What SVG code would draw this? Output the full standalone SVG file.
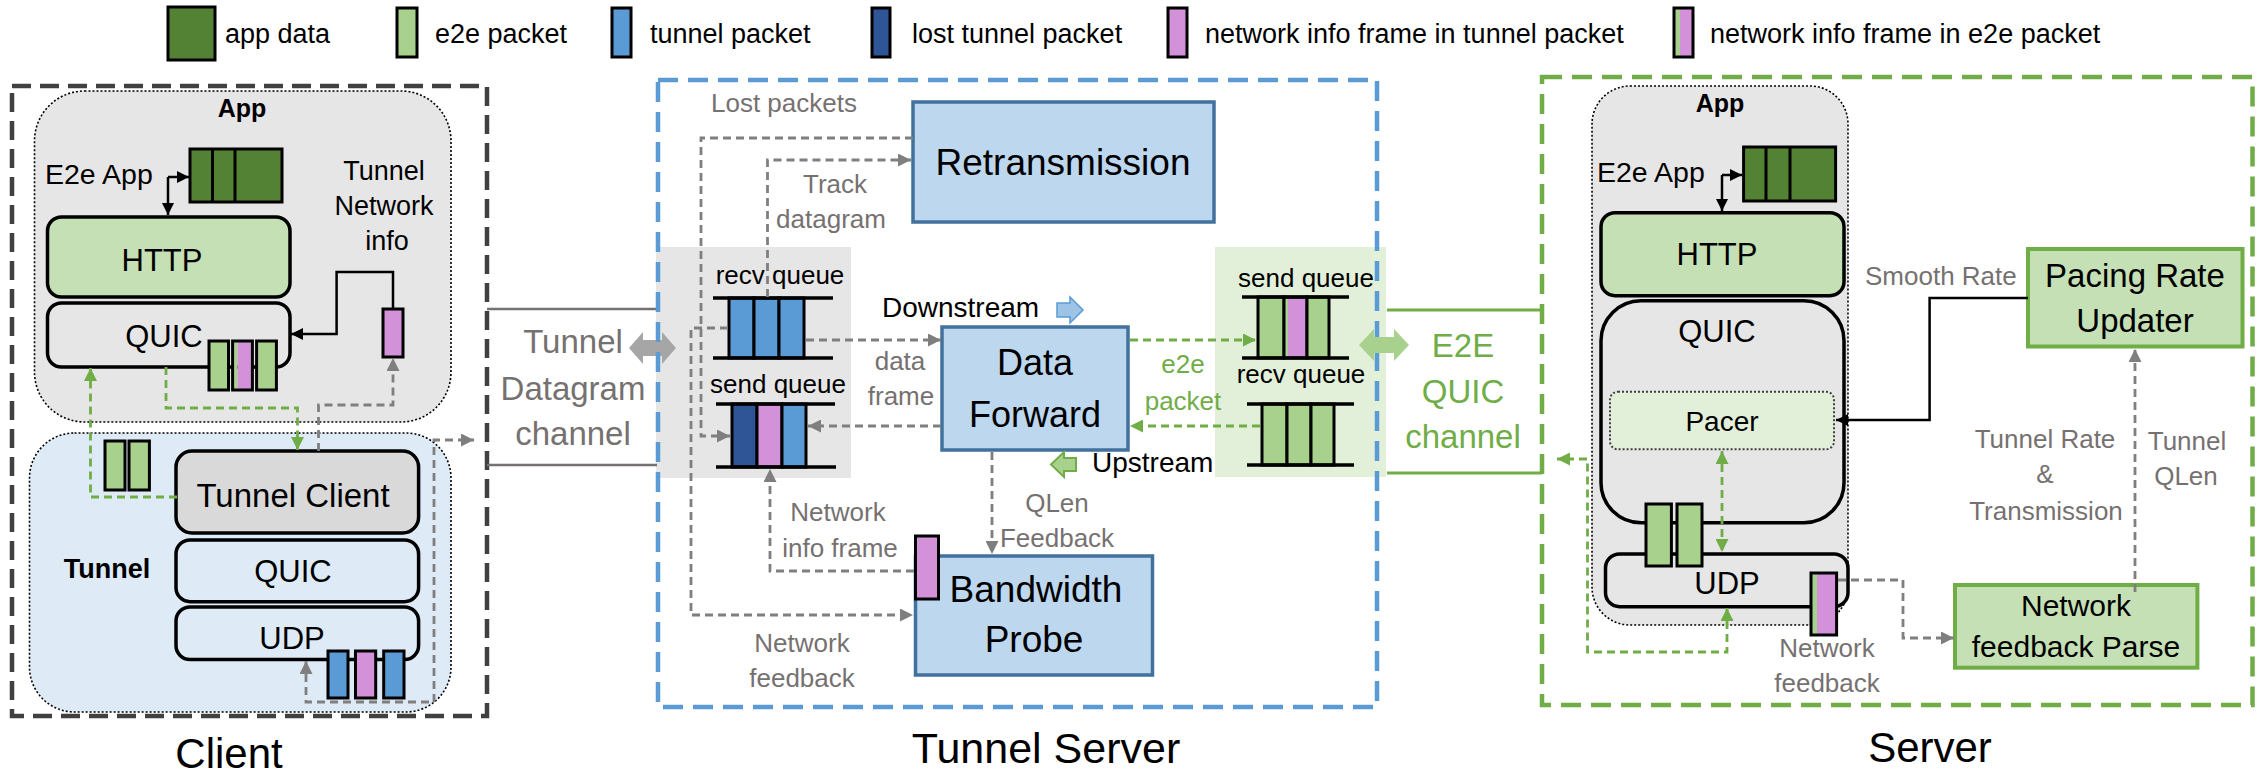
<svg xmlns="http://www.w3.org/2000/svg" width="2264" height="773" viewBox="0 0 2264 773">
<style>
text{font-family:"Liberation Sans",Arial,sans-serif;fill:#000}
.c{text-anchor:middle}
.g{fill:#767171}
.gr{fill:#70ad47}
.b{font-weight:bold}
.pk{stroke:#000;stroke-width:3}
.e2e{fill:#a9d18e}
.tun{fill:#5b9bd5}
.lost{fill:#2f5597}
.nif{fill:#d291d9}
.app{fill:#548235}
.layer{stroke:#000;stroke-width:3.5}
.blue{fill:#bdd7ee;stroke:#41719c;stroke-width:3.5}
.gbox{fill:#c5e0b4;stroke:#70ad47;stroke-width:4}
.dot{stroke:#000;stroke-width:1.6;stroke-dasharray:2 2}
.q{stroke:#000;stroke-width:3.5}
.dg{fill:none;stroke:#7f7f7f;stroke-width:2.8;stroke-dasharray:8 5}
.dgr{fill:none;stroke:#70ad47;stroke-width:2.8;stroke-dasharray:8 5}
.bl{fill:none;stroke:#000;stroke-width:2.5}
</style>
<defs>
<marker id="ag" viewBox="0 0 10 10" refX="10" refY="5" markerWidth="13" markerHeight="13" markerUnits="userSpaceOnUse" orient="auto-start-reverse"><path d="M0,0 L10,5 L0,10 z" fill="#7f7f7f"/></marker>
<marker id="agr" viewBox="0 0 10 10" refX="10" refY="5" markerWidth="13" markerHeight="13" markerUnits="userSpaceOnUse" orient="auto-start-reverse"><path d="M0,0 L10,5 L0,10 z" fill="#70ad47"/></marker>
<marker id="ab" viewBox="0 0 10 10" refX="10" refY="5" markerWidth="12" markerHeight="12" markerUnits="userSpaceOnUse" orient="auto-start-reverse"><path d="M0,0 L10,5 L0,10 z" fill="#000"/></marker>
</defs>
<rect width="2264" height="773" fill="#fff"/>

<g id="legend" font-size="27">
<rect class="pk app" x="168" y="7" width="47" height="53" stroke-width="4"/>
<text x="225" y="43" font-size="27">app data</text>
<rect class="pk e2e" x="397" y="8" width="20" height="49"/>
<text x="435" y="43" font-size="27">e2e packet</text>
<rect class="pk tun" x="612" y="8" width="19" height="49"/>
<text x="650" y="43" font-size="27">tunnel packet</text>
<rect class="pk lost" x="872" y="8" width="18" height="49"/>
<text x="912" y="43" font-size="27">lost tunnel packet</text>
<rect class="pk nif" x="1168" y="8" width="19" height="49"/>
<text x="1205" y="43" font-size="27">network info frame in tunnel packet</text>
<rect class="e2e" x="1674" y="8" width="6" height="49"/>
<rect class="nif" x="1680" y="8" width="13" height="49"/>
<rect x="1674" y="8" width="19" height="49" fill="none" stroke="#000" stroke-width="3"/>
<text x="1710" y="43" font-size="27">network info frame in e2e packet</text>
</g>

<g id="tunnel-server-panels">
<rect x="656" y="247" width="195" height="231" fill="#e7e6e6"/>
<rect x="1215" y="247" width="171" height="230" fill="#e2f0d9"/>
</g>

<g id="client">
<rect x="12" y="86" width="475" height="630" fill="none" stroke="#404040" stroke-width="4.5" stroke-dasharray="19 9"/>
<text class="c" x="229" y="768" font-size="42">Client</text>
</g>

<g id="client-app">
<rect class="dot" x="34.5" y="91" width="416.5" height="331" rx="50" fill="#e7e6e6"/>
<text class="c b" x="242" y="117" font-size="25">App</text>
<text x="45" y="184" font-size="28.5">E2e App</text>
<rect class="pk app" x="190" y="149" width="92" height="53"/>
<line class="pk" x1="212.5" y1="149" x2="212.5" y2="202"/>
<line class="pk" x1="235" y1="149" x2="235" y2="202"/>
<text class="c" x="384" y="180" font-size="27">Tunnel</text>
<text class="c" x="384" y="215" font-size="27">Network</text>
<text class="c" x="387" y="250" font-size="27">info</text>
</g>
<g id="client-http">
<rect class="layer" x="47.5" y="217" width="242.5" height="80" rx="14" fill="#c5e0b4"/>
<text class="c" x="162" y="271" font-size="31">HTTP</text>
</g>
<g id="client-quic">
<rect class="layer" x="47.5" y="303" width="242.5" height="64" rx="14" fill="#e7e6e6"/>
<text class="c" x="164" y="347" font-size="31">QUIC</text>
<rect class="pk e2e" x="209" y="341" width="19.5" height="49"/>
<rect class="e2e" x="232.6" y="341" width="5" height="49"/>
<rect class="nif" x="237.6" y="341" width="14.8" height="49"/>
<rect x="232.6" y="341" width="19.8" height="49" fill="none" stroke="#000" stroke-width="3"/>
<rect class="pk e2e" x="256.6" y="341" width="19.8" height="49"/>
<rect class="pk nif" x="383" y="309" width="20" height="48"/>
</g>

<g id="client-tunnel">
<rect class="dot" x="29.5" y="433" width="421.5" height="279" rx="45" fill="#deebf7"/>
<text class="c b" x="107" y="578" font-size="27">Tunnel</text>
<rect class="pk e2e" x="105" y="441" width="20" height="49"/>
<rect class="pk e2e" x="129" y="441" width="20.4" height="49"/>
</g>
<g id="tunnel-client">
<rect class="layer" x="176" y="451" width="242.6" height="82" rx="16" fill="#d9d9d9"/>
<text class="c" x="293" y="507" font-size="33">Tunnel Client</text>
</g>
<g id="tunnel-quic">
<rect class="layer" x="176" y="540" width="242.6" height="61.7" rx="14" fill="#deebf7"/>
<text class="c" x="293" y="582" font-size="31">QUIC</text>
</g>
<g id="tunnel-udp">
<rect class="layer" x="176" y="607" width="242.6" height="52.5" rx="14" fill="#deebf7"/>
<text class="c" x="292" y="649" font-size="31">UDP</text>
<rect class="pk tun" x="328" y="651" width="20" height="47"/>
<rect class="pk nif" x="355.5" y="651" width="20.2" height="47"/>
<rect class="pk tun" x="383.7" y="651" width="20.3" height="47"/>
</g>

<g id="tunnel-datagram-channel">
<line x1="487" y1="309" x2="657" y2="309" stroke="#767171" stroke-width="2.5"/>
<line x1="487" y1="465" x2="657" y2="465" stroke="#767171" stroke-width="2.5"/>
<text class="c g" x="573" y="353" font-size="33">Tunnel</text>
<text class="c g" x="573" y="400" font-size="33">Datagram</text>
<text class="c g" x="573" y="445" font-size="33">channel</text>
<polygon points="629,348 643,332 643,340 662,340 662,332 676,348 662,364 662,356 643,356 643,364" fill="#a6a6a6"/>
</g>

<g id="tunnel-server">
<rect x="658" y="80" width="719" height="627" fill="none" stroke="#5b9bd5" stroke-width="4.5" stroke-dasharray="20 10"/>
<text class="c" x="1046" y="763" font-size="43">Tunnel Server</text>
</g>

<g id="ts-recv-queue">
<text class="c" x="780" y="284" font-size="26">recv queue</text>
<rect class="pk tun" x="729" y="298" width="25" height="60"/>
<rect class="pk tun" x="754" y="298" width="25" height="60"/>
<rect class="pk tun" x="779" y="298" width="25" height="60"/>
<line class="q" x1="713" y1="298" x2="833" y2="298"/>
<line class="q" x1="713" y1="358" x2="833" y2="358"/>
</g>
<g id="ts-send-queue">
<text class="c" x="778" y="393" font-size="26">send queue</text>
<rect class="pk lost" x="732" y="404" width="25" height="63"/>
<rect class="pk nif" x="757" y="404" width="25" height="63"/>
<rect class="pk tun" x="782" y="404" width="24" height="63"/>
<line class="q" x1="716" y1="404" x2="835" y2="404"/>
<line class="q" x1="716" y1="467" x2="836" y2="467"/>
</g>

<g id="retransmission">
<rect class="blue" x="913" y="102" width="301" height="120"/>
<text class="c" x="1063" y="175" font-size="37">Retransmission</text>
</g>
<g id="data-forward">
<rect class="blue" x="942" y="327" width="186" height="123"/>
<text class="c" x="1035" y="375" font-size="36">Data</text>
<text class="c" x="1035" y="427" font-size="36">Forward</text>
</g>
<g id="bandwidth-probe">
<rect class="blue" x="915.5" y="556" width="237" height="119"/>
<text class="c" x="1036" y="602" font-size="37">Bandwidth</text>
<text class="c" x="1034" y="652" font-size="37">Probe</text>
<rect class="pk nif" x="915.5" y="536" width="23" height="63"/>
</g>

<g id="stream-labels">
<text x="882" y="317" font-size="28">Downstream</text>
<polygon points="1057,303 1070,303 1070,297 1083,310 1070,323 1070,317 1057,317" fill="#9dc3e6" stroke="#5b9bd5" stroke-width="1.5"/>
<text x="1092" y="472" font-size="28">Upstream</text>
<polygon points="1076,458 1064,458 1064,452 1051,464.5 1064,477 1064,471 1076,471" fill="#a9d18e" stroke="#70ad47" stroke-width="2"/>
</g>

<g id="ts-e2e-send-queue">
<text class="c" x="1306" y="287" font-size="26">send queue</text>
<rect class="pk e2e" x="1258" y="297" width="26" height="61"/>
<rect class="e2e" x="1284" y="297" width="4" height="61"/>
<rect class="nif" x="1288" y="297" width="19" height="61"/>
<rect x="1284" y="297" width="23" height="61" fill="none" stroke="#000" stroke-width="3"/>
<rect class="pk e2e" x="1307" y="297" width="22" height="61"/>
<line class="q" x1="1242" y1="297" x2="1349" y2="297"/>
<line class="q" x1="1242" y1="358" x2="1349" y2="358"/>
</g>
<g id="ts-e2e-recv-queue">
<text class="c" x="1301" y="383" font-size="26">recv queue</text>
<rect class="pk e2e" x="1262" y="404" width="25" height="61"/>
<rect class="pk e2e" x="1287" y="404" width="24" height="61"/>
<rect class="pk e2e" x="1311" y="404" width="23" height="61"/>
<line class="q" x1="1247" y1="404" x2="1354" y2="404"/>
<line class="q" x1="1247" y1="465" x2="1354" y2="465"/>
</g>

<g id="e2e-quic-channel">
<polygon points="1359,345 1374,329 1374,337 1394,337 1394,329 1409,345 1394,361 1394,353 1374,353 1374,361" fill="#a9d18e"/>
<line x1="1387" y1="310" x2="1542" y2="310" stroke="#70ad47" stroke-width="3"/>
<line x1="1387" y1="473" x2="1542" y2="473" stroke="#70ad47" stroke-width="3"/>
<text class="c gr" x="1463" y="357" font-size="33">E2E</text>
<text class="c gr" x="1463" y="403" font-size="33">QUIC</text>
<text class="c gr" x="1463" y="448" font-size="33">channel</text>
</g>

<g id="server">
<rect x="1542" y="77" width="710.5" height="628" fill="none" stroke="#70ad47" stroke-width="4.5" stroke-dasharray="20 10"/>
<text class="c" x="1930" y="762" font-size="42">Server</text>
</g>
<g id="server-app">
<rect class="dot" x="1592" y="86" width="256" height="539" rx="38" fill="#e7e6e6"/>
<text class="c b" x="1720" y="112" font-size="25">App</text>
<text x="1597" y="182" font-size="28.5">E2e App</text>
<rect class="pk app" x="1743.6" y="147" width="92" height="54"/>
<line class="pk" x1="1766" y1="147" x2="1766" y2="201"/>
<line class="pk" x1="1790" y1="147" x2="1790" y2="201"/>
</g>
<g id="server-http">
<rect class="layer" x="1601" y="212.7" width="243" height="83" rx="14" fill="#c5e0b4"/>
<text class="c" x="1717" y="265" font-size="31">HTTP</text>
</g>
<g id="server-quic">
<rect class="layer" x="1601" y="300.7" width="243" height="222" rx="40" fill="#e7e6e6"/>
<text class="c" x="1717" y="342" font-size="31">QUIC</text>
</g>
<g id="pacer">
<rect x="1610" y="391.7" width="224" height="57.6" rx="8" fill="#e2f0d9" stroke="#404040" stroke-width="2" stroke-dasharray="2 2"/>
<text class="c" x="1722" y="431" font-size="28">Pacer</text>
</g>
<g id="server-udp">
<rect class="layer" x="1605.5" y="554" width="242.5" height="52.7" rx="14" fill="#e7e6e6"/>
<text class="c" x="1727" y="594" font-size="31">UDP</text>
<rect class="pk e2e" x="1646" y="504" width="25.4" height="62"/>
<rect class="pk e2e" x="1677" y="504" width="25" height="62"/>
<rect class="e2e" x="1811" y="573" width="6" height="62"/>
<rect class="nif" x="1817" y="573" width="19.6" height="62"/>
<rect x="1811" y="573" width="25.6" height="62" fill="none" stroke="#000" stroke-width="3"/>
</g>
<g id="pacing-rate-updater">
<rect class="gbox" x="2028" y="249" width="214.5" height="97.5"/>
<text class="c" x="2135" y="287" font-size="33">Pacing Rate</text>
<text class="c" x="2135" y="332" font-size="33">Updater</text>
</g>
<g id="network-feedback-parse">
<rect class="gbox" x="1955" y="585" width="242.4" height="82.7"/>
<text class="c" x="2076" y="616" font-size="30">Network</text>
<text class="c" x="2076" y="657" font-size="30">feedback Parse</text>
</g>

<g id="connectors">
<path class="bl" d="M168,177 V215" marker-end="url(#ab)"/>
<path class="bl" d="M168,177 H189" marker-end="url(#ab)"/>
<path class="bl" d="M393,309 V272 H336.6 V334 H291" marker-end="url(#ab)"/>
<path class="dgr" d="M177,497 H90.5 V368" marker-end="url(#agr)"/>
<path class="dgr" d="M166,367 V408 H297.5 V450" marker-end="url(#agr)"/>
<path class="dg" d="M318.5,451 V405 H393 V358" marker-end="url(#ag)"/>
<path class="dg" d="M306,661 V702 H434 V440 H474" marker-start="url(#ag)" marker-end="url(#ag)"/>

<path class="dg" d="M767.5,297 V160 H911" marker-end="url(#ag)"/>
<path class="dg" d="M913,138 H701 V436 H730" marker-end="url(#ag)"/>
<path class="dg" d="M728,328 H691 V615 H913" marker-end="url(#ag)"/>
<path class="dg" d="M806,340 H941" marker-end="url(#ag)"/>
<path class="dg" d="M941,426 H808" marker-end="url(#ag)"/>
<path class="dg" d="M914,571 H770 V469" marker-end="url(#ag)"/>
<path class="dg" d="M992,452 V554" marker-end="url(#ag)"/>
<path class="dgr" d="M1130,340 H1256" marker-end="url(#agr)"/>
<path class="dgr" d="M1260,426 H1130" marker-end="url(#agr)"/>

<path class="bl" d="M1722,175 V211" marker-end="url(#ab)"/>
<path class="bl" d="M1722,175 H1742" marker-end="url(#ab)"/>
<path class="bl" d="M2028,298 H1929.6 V420 H1836" marker-end="url(#ab)"/>
<path class="dgr" d="M1722,451 V552" marker-start="url(#agr)" marker-end="url(#agr)"/>
<path class="dgr" d="M1727,608 V652 H1587.5 V459 H1557" marker-start="url(#agr)" marker-end="url(#agr)"/>
<path class="dg" d="M2135,592 V349" marker-end="url(#ag)"/>
<path class="dg" d="M1838,580 H1903 V638 H1954" marker-end="url(#ag)"/>
</g>

<g id="connector-labels" font-size="26">
<text class="g" x="711" y="112" font-size="26">Lost packets</text>
<text class="c g" x="835" y="193" font-size="26">Track</text>
<text class="c g" x="831" y="228" font-size="26">datagram</text>
<text class="c g" x="900" y="370" font-size="26">data</text>
<text class="c g" x="901" y="405" font-size="26">frame</text>
<text class="c gr" x="1183" y="373" font-size="26">e2e</text>
<text class="c gr" x="1183" y="410" font-size="26">packet</text>
<text class="c g" x="1057" y="512" font-size="26">QLen</text>
<text class="c g" x="1057" y="547" font-size="26">Feedback</text>
<text class="c g" x="838" y="521" font-size="26">Network</text>
<text class="c g" x="840" y="557" font-size="26">info frame</text>
<text class="c g" x="802" y="652" font-size="26">Network</text>
<text class="c g" x="802" y="687" font-size="26">feedback</text>
<text class="g" x="1865" y="285" font-size="26">Smooth Rate</text>
<text class="c g" x="2045" y="448" font-size="26">Tunnel Rate</text>
<text class="c g" x="2045" y="483" font-size="26">&amp;</text>
<text class="c g" x="2046" y="520" font-size="26">Transmission</text>
<text class="c g" x="2187" y="450" font-size="26">Tunnel</text>
<text class="c g" x="2186" y="485" font-size="26">QLen</text>
<text class="c g" x="1827" y="657" font-size="26">Network</text>
<text class="c g" x="1827" y="692" font-size="26">feedback</text>
</g>
</svg>
